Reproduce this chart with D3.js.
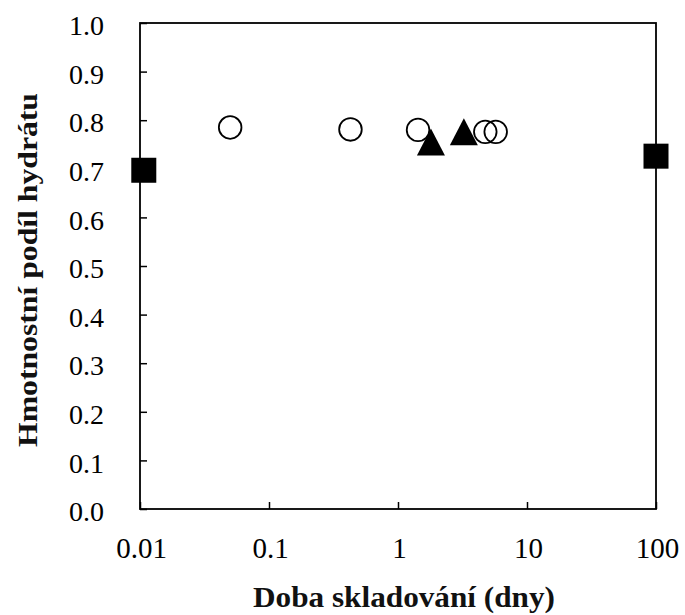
<!DOCTYPE html>
<html>
<head>
<meta charset="utf-8">
<script src="https://cdn.jsdelivr.net/npm/d3@7"></script>
<style>
  body { margin: 0; background: #fff; }
  svg text { font-family: "Liberation Serif", "Times New Roman", serif; fill: #000; }
</style>
</head>
<body>
<div id="chart"></div>
<script>
// data
const circleX = [0.05, 0.428, 1.43, 4.75, 5.72]
const circleY = [0.785, 0.781, 0.780, 0.776, 0.776]
const triangleX = [1.80, 3.24]
const triangleY = [0.755, 0.776]
const squareX = [0.0107, 100]
const squareY = [0.697, 0.726]

const xTicks = [0.01, 0.1, 1, 10, 100]
const yTicks = [0, 0.1, 0.2, 0.3, 0.4, 0.5, 0.6, 0.7, 0.8, 0.9, 1.0]

const xTitle = "Doba skladování (dny)"
const yTitle = "Hmotnostní podíl hydrátu"

var margin = { top: 23, right: 29, bottom: 106, left: 140 }
var W = 685, H = 615
var width = W - margin.left - margin.right
var height = H - margin.top - margin.bottom

var svg = d3.select("#chart")
  .append("svg")
  .attr("width", W)
  .attr("height", H)

var g = svg.append("g")
  .attr("transform", "translate(" + margin.left + "," + margin.top + ")")

var x = d3.scaleLog().domain([0.01, 100]).range([0, width])
var y = d3.scaleLinear().domain([0, 1]).range([height, 0])

// frame
g.append("rect")
  .attr("width", width)
  .attr("height", height)
  .style("fill", "none")
  .style("stroke", "#000")
  .style("stroke-width", 1.8)

// x axis, ticks pointing inwards
var xAxis = g.append("g")
  .attr("transform", "translate(0," + height + ")")
  .call(d3.axisBottom(x).tickValues(xTicks).tickSizeInner(-7).tickSizeOuter(0)
    .tickFormat(function(d) { return d < 1 ? String(d) : d3.format("d")(d) }))
xAxis.select(".domain").remove()
xAxis.selectAll("line").style("stroke", "#000").style("stroke-width", 1.5)
xAxis.selectAll("text")
  .attr("x", 1)
  .attr("y", 49)
  .attr("dy", 0)
  .style("font-size", "29px")

var yAxis = g.append("g")
  .call(d3.axisLeft(y).tickValues(yTicks).tickSizeInner(-7).tickSizeOuter(0)
    .tickFormat(d3.format(".1f")))
yAxis.select(".domain").remove()
yAxis.selectAll("line").style("stroke", "#000").style("stroke-width", 1.5)
yAxis.selectAll("text")
  .attr("x", -36)
  .attr("dy", "0.42em")
  .style("font-size", "28px")

// circles (open)
g.selectAll(".circ")
  .data(circleX.map(function(d, i) { return { x: d, y: circleY[i] } }))
  .enter()
  .append("circle")
    .attr("cx", function(d) { return x(d.x) })
    .attr("cy", function(d) { return y(d.y) })
    .attr("r", 11.3)
    .style("fill", "none")
    .style("stroke", "#000")
    .style("stroke-width", 1.8)

// filled triangles
var tri = { draw: function(ctx, size) {
  var w = 14, h = 13.5
  ctx.moveTo(0, -h); ctx.lineTo(w, h); ctx.lineTo(-w, h); ctx.closePath()
} }
g.selectAll(".tri")
  .data(triangleX.map(function(d, i) { return { x: d, y: triangleY[i] } }))
  .enter()
  .append("path")
    .attr("d", d3.symbol().type(tri))
    .attr("transform", function(d) { return "translate(" + x(d.x) + "," + y(d.y) + ")" })
    .style("fill", "#000")

// filled squares
g.selectAll(".sq")
  .data(squareX.map(function(d, i) { return { x: d, y: squareY[i] } }))
  .enter()
  .append("rect")
    .attr("x", function(d) { return x(d.x) - 12.5 })
    .attr("y", function(d) { return y(d.y) - 12.5 })
    .attr("width", 25)
    .attr("height", 25)
    .style("fill", "#000")

// axis titles
svg.append("text")
  .attr("x", 404)
  .attr("y", 607)
  .attr("text-anchor", "middle")
  .attr("textLength", 302)
  .attr("lengthAdjust", "spacingAndGlyphs")
  .style("font-size", "30px")
  .style("font-weight", "bold")
  .style("fill", "#111")
  .text(xTitle)

svg.append("text")
  .attr("transform", "translate(37,270) rotate(-90)")
  .attr("text-anchor", "middle")
  .attr("textLength", 354)
  .attr("lengthAdjust", "spacingAndGlyphs")
  .style("font-size", "28px")
  .style("font-weight", "bold")
  .style("fill", "#111")
  .text(yTitle)
</script>
</body>
</html>
